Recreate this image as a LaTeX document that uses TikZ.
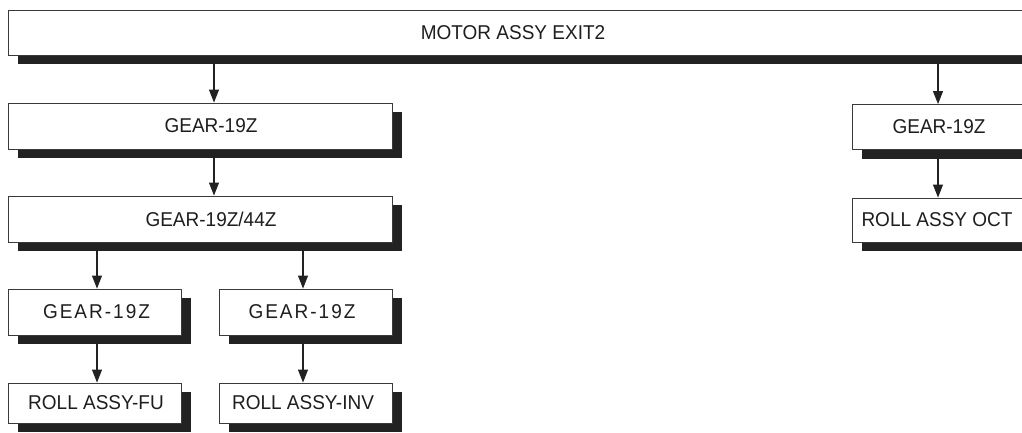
\documentclass[tikz,border=0pt]{standalone}
\usepackage{fontspec}
\setmainfont{Liberation Sans}[FakeStretch=0.95]
\newfontfamily\widefont{Liberation Sans}[FakeStretch=0.95, LetterSpace=10]
\usetikzlibrary{calc, positioning}
\usetikzlibrary{arrows.meta}
\usetikzlibrary{shadows}

\definecolor{linegray}{HTML}{3A3A3A}
\definecolor{shadowblack}{HTML}{222222}
\definecolor{textgray}{HTML}{1E1E1E}

\newcommand{\partfont}{\fontsize{20pt}{23pt}\selectfont}

\tikzset{
  part/.style={draw=linegray, line width=0.9pt, fill=white, inner sep=0pt,
    minimum height=46pt, font=\partfont, text=textgray,
    drop shadow={shadow xshift=10pt, shadow yshift=-9pt, fill=shadowblack, opacity=1}},
  feed/.style={-{Triangle[length=13pt, width=10pt]}, line width=1.1pt, draw=shadowblack, fill=shadowblack},
}

\begin{document}
\begin{tikzpicture}[x=1pt, y=-1pt]
\def\sh{9}
\useasboundingbox (0,0) rectangle (1022,432);
\clip (0,0) rectangle (1022,432);

\coordinate (colA) at (214,0);
\coordinate (colL) at (97,0);
\coordinate (colR) at (303,0);
\coordinate (colC) at (938,0);

\node[part, minimum width=1032pt, minimum height=45pt] (motor) at (524,32.5) {MOTOR ASSY EXIT2\hspace*{22pt}};

\node[part, minimum width=384pt] (gearA) at (200,126) {\hspace*{22pt}GEAR-19Z};
\node[part, minimum width=384pt] (gearB) at (200,219) {\hspace*{22pt}GEAR-19Z/44Z};
\node[part, minimum width=173pt] (gearL) at (94.5,312) {\hspace*{4pt}\widefont GEAR-19Z};
\node[part, minimum width=173pt] (gearR) at (305.5,312) {\widefont GEAR-19Z\hspace*{7pt}};
\node[part, minimum width=173pt, minimum height=40pt] (rollFU) at (94.5,403) {\hspace*{3pt}ROLL ASSY-FU};
\node[part, minimum width=173pt, minimum height=40pt] (rollINV) at (305.5,403) {ROLL ASSY-INV\hspace*{5pt}};

\node[part, minimum width=178pt, minimum height=45pt] (gearC) at (941,127) {GEAR-19Z\hspace*{4pt}};
\node[part, minimum width=178pt, minimum height=44pt] (rollOCT) at (941,220) {ROLL ASSY OCT\hspace*{8pt}};

\draw[feed] ($(motor.south -| colA)+(0,\sh)$) -- (gearA.north -| colA);
\draw[feed] ($(motor.south -| colC)+(0,\sh)$) -- (gearC.north -| colC);
\draw[feed] ($(gearA.south -| colA)+(0,\sh)$) -- (gearB.north -| colA);
\draw[feed] ($(gearB.south -| colL)+(0,\sh)$) -- (gearL.north -| colL);
\draw[feed] ($(gearB.south -| colR)+(0,\sh)$) -- (gearR.north -| colR);
\draw[feed] ($(gearL.south -| colL)+(0,\sh)$) -- (rollFU.north -| colL);
\draw[feed] ($(gearR.south -| colR)+(0,\sh)$) -- (rollINV.north -| colR);
\draw[feed] ($(gearC.south -| colC)+(0,\sh)$) -- (rollOCT.north -| colC);
\end{tikzpicture}
\end{document}
